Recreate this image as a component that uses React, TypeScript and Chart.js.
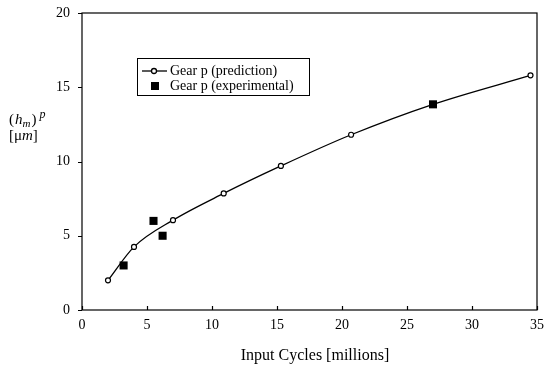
import { useEffect, useRef } from "react";
import { Chart, registerables } from "chart.js";

Chart.register(...registerables);

// Wear depth of gear p against input cycles
const predictionCycles = [2, 4, 7, 10.9, 15.3, 20.7, 27, 34.5];
const predictionDepth = [2.0, 4.25, 6.05, 7.85, 9.7, 11.8, 13.85, 15.8];
const experimentCycles = [3.2, 5.5, 6.2, 27];
const experimentDepth = [3.0, 6.0, 5.0, 13.85];

const xTickValues = [0, 5, 10, 15, 20, 25, 30, 35];
const yTickValues = [0, 5, 10, 15, 20];

const seriesLabels = ["Gear p (prediction)", "Gear p (experimental)"];
const xAxisTitle = "Input Cycles [millions]";

const SERIF = "'Liberation Serif', 'Times New Roman', serif";

type Seg = { t: string; italic?: boolean; size?: number; dy?: number; gap?: number };

function drawSegments(ctx: CanvasRenderingContext2D, segs: Seg[], x: number, y: number) {
  let cx = x;
  for (const s of segs) {
    cx += s.gap ?? 0;
    ctx.font = `${s.italic ? "italic " : ""}${s.size ?? 15}px ${SERIF}`;
    ctx.fillText(s.t, cx, y + (s.dy ?? 0));
    cx += ctx.measureText(s.t).width;
  }
}

const framePlugin = {
  id: "frame",
  afterDatasetsDraw(chart: any) {
    const { ctx, chartArea } = chart;
    const { left, right, top, bottom } = chartArea;
    const xs = chart.scales.x;
    const ys = chart.scales.y;
    ctx.save();
    ctx.strokeStyle = "#000";
    ctx.fillStyle = "#000";
    ctx.lineWidth = 1.2;

    // plot frame
    ctx.strokeRect(left, top, right - left, bottom - top);

    // x tick marks point into the plot, y tick marks point outward
    ctx.beginPath();
    for (const v of xTickValues) {
      const px = Math.round(xs.getPixelForValue(v)) + 0.5;
      ctx.moveTo(px, bottom);
      ctx.lineTo(px, bottom - 4);
    }
    for (const v of yTickValues) {
      const py = Math.round(ys.getPixelForValue(v)) + 0.5;
      ctx.moveTo(left - 4, py);
      ctx.lineTo(left, py);
    }
    ctx.stroke();

    // x axis title
    ctx.font = `16px ${SERIF}`;
    ctx.textAlign = "center";
    ctx.textBaseline = "middle";
    ctx.fillText(xAxisTitle, 315, 356);

    // y axis title: (h_m)^p over [μm]
    ctx.textAlign = "left";
    ctx.textBaseline = "alphabetic";
    drawSegments(
      ctx,
      [
        { t: "(" },
        { t: "h", italic: true, gap: 1 },
        { t: "m", italic: true, size: 11, dy: 3 },
        { t: ")", gap: 1 },
        { t: "p", italic: true, size: 12, dy: -6, gap: 3 },
      ],
      9,
      124
    );
    drawSegments(ctx, [{ t: "[\u03bc" }, { t: "m", italic: true }, { t: "]" }], 9, 140);

    // legend box
    const bx = 137, by = 58, bw = 172, bh = 37;
    ctx.fillStyle = "#fff";
    ctx.fillRect(bx, by, bw, bh);
    ctx.lineWidth = 1;
    ctx.strokeRect(bx + 0.5, by + 0.5, bw, bh);
    ctx.fillStyle = "#000";
    const row1 = by + 13;
    const row2 = by + 28;
    ctx.lineWidth = 1.3;
    ctx.beginPath();
    ctx.moveTo(142, row1);
    ctx.lineTo(167, row1);
    ctx.stroke();
    ctx.beginPath();
    ctx.arc(154, row1, 2.5, 0, Math.PI * 2);
    ctx.fillStyle = "#fff";
    ctx.fill();
    ctx.stroke();
    ctx.fillStyle = "#000";
    ctx.fillRect(151, row2 - 4, 8, 8);
    ctx.font = `14px ${SERIF}`;
    ctx.textBaseline = "middle";
    ctx.fillText(seriesLabels[0], 170, row1);
    ctx.fillText(seriesLabels[1], 170, row2);
    ctx.restore();
  },
};

export default function App() {
  const canvasRef = useRef<HTMLCanvasElement | null>(null);

  useEffect(() => {
    document.body.style.margin = "0";
    const canvas = canvasRef.current;
    if (!canvas) return;
    const chart = new Chart(canvas, {
      type: "scatter",
      data: {
        datasets: [
          {
            label: seriesLabels[0],
            data: predictionCycles.map((x, i) => ({ x, y: predictionDepth[i] })),
            showLine: true,
            borderColor: "#000",
            borderWidth: 1.3,
            cubicInterpolationMode: "monotone",
            pointStyle: "circle",
            pointRadius: 2.5,
            pointBackgroundColor: "#fff",
            pointBorderColor: "#000",
            pointBorderWidth: 1.2,
            order: 2,
          },
          {
            label: seriesLabels[1],
            data: experimentCycles.map((x, i) => ({ x, y: experimentDepth[i] })),
            showLine: false,
            pointStyle: "rect",
            pointRadius: 5.7,
            pointBackgroundColor: "#000",
            pointBorderColor: "#000",
            pointBorderWidth: 0,
            order: 1,
          },
        ],
      },
      options: {
        responsive: false,
        animation: false,
        layout: { padding: { top: 13, right: 8, left: 0, bottom: 0 } },
        plugins: {
          legend: { display: false },
          tooltip: { enabled: false },
        },
        scales: {
          x: {
            type: "linear",
            min: 0,
            max: 35,
            afterBuildTicks: (scale: any) => {
              scale.ticks = xTickValues.map((value) => ({ value }));
            },
            afterFit: (scale: any) => {
              scale.height = 58;
              scale.paddingLeft = 0;
              scale.paddingRight = 0;
            },
            grid: { display: false, drawTicks: false },
            border: { display: false },
            ticks: {
              color: "#000",
              padding: 7,
              maxRotation: 0,
              font: { family: SERIF, size: 14 },
            },
          },
          y: {
            type: "linear",
            min: 0,
            max: 20,
            afterBuildTicks: (scale: any) => {
              scale.ticks = yTickValues.map((value) => ({ value }));
            },
            afterFit: (scale: any) => {
              scale.width = 82;
              scale.paddingTop = 0;
              scale.paddingBottom = 0;
            },
            grid: { display: false, drawTicks: false },
            border: { display: false },
            ticks: {
              color: "#000",
              padding: 12,
              font: { family: SERIF, size: 14 },
            },
          },
        },
      },
      plugins: [framePlugin],
    } as any);
    return () => chart.destroy();
  }, []);

  return <canvas ref={canvasRef} width={545} height={368} style={{ display: "block" }} />;
}
